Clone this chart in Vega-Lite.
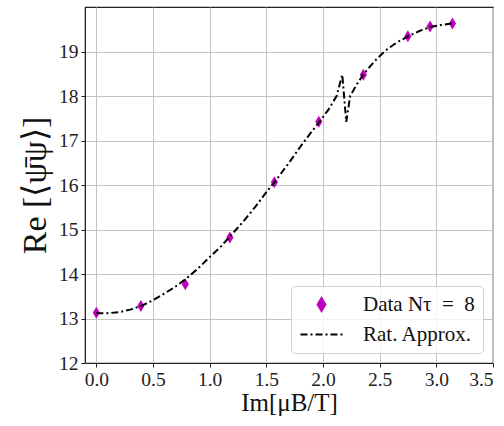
{
  "$schema": "https://vega.github.io/schema/vega-lite/v6.json",
  "width": 408,
  "height": 356,
  "autosize": {"type": "none"},
  "padding": {"left": 85, "top": 7, "right": 11, "bottom": 63},
  "background": "white",
  "config": {
    "font": "Liberation Serif",
    "view": {"stroke": "#222222", "strokeWidth": 1.2},
    "axis": {
      "labelFontSize": 19.5,
      "labelColor": "#222222",
      "titleColor": "#111111",
      "titleFontWeight": "normal",
      "tickColor": "#222222",
      "domainColor": "#222222",
      "tickSize": 4,
      "labelPadding": 3,
      "gridColor": "#c4c4c4",
      "gridWidth": 1
    }
  },
  "datasets": {
    "pts": [
      {"x": 0.0, "y": 13.13, "series": "Data Nτ = 8"},
      {"x": 0.393, "y": 13.28, "series": "Data Nτ = 8"},
      {"x": 0.785, "y": 13.77, "series": "Data Nτ = 8"},
      {"x": 1.178, "y": 14.82, "series": "Data Nτ = 8"},
      {"x": 1.571, "y": 16.06, "series": "Data Nτ = 8"},
      {"x": 1.963, "y": 17.42, "series": "Data Nτ = 8"},
      {"x": 2.356, "y": 18.48, "series": "Data Nτ = 8"},
      {"x": 2.749, "y": 19.34, "series": "Data Nτ = 8"},
      {"x": 2.945, "y": 19.56, "series": "Data Nτ = 8"},
      {"x": 3.142, "y": 19.63, "series": "Data Nτ = 8"}
    ],
    "curve": [
      {"x": 0.0, "y": 13.12, "series": "Rat. Approx."},
      {"x": 0.1, "y": 13.12, "series": "Rat. Approx."},
      {"x": 0.2, "y": 13.14, "series": "Rat. Approx."},
      {"x": 0.3, "y": 13.2, "series": "Rat. Approx."},
      {"x": 0.393, "y": 13.28, "series": "Rat. Approx."},
      {"x": 0.5, "y": 13.41, "series": "Rat. Approx."},
      {"x": 0.6, "y": 13.56, "series": "Rat. Approx."},
      {"x": 0.7, "y": 13.72, "series": "Rat. Approx."},
      {"x": 0.785, "y": 13.88, "series": "Rat. Approx."},
      {"x": 0.9, "y": 14.13, "series": "Rat. Approx."},
      {"x": 1.0, "y": 14.38, "series": "Rat. Approx."},
      {"x": 1.1, "y": 14.62, "series": "Rat. Approx."},
      {"x": 1.178, "y": 14.84, "series": "Rat. Approx."},
      {"x": 1.3, "y": 15.19, "series": "Rat. Approx."},
      {"x": 1.4, "y": 15.5, "series": "Rat. Approx."},
      {"x": 1.5, "y": 15.84, "series": "Rat. Approx."},
      {"x": 1.571, "y": 16.06, "series": "Rat. Approx."},
      {"x": 1.7, "y": 16.5, "series": "Rat. Approx."},
      {"x": 1.8, "y": 16.86, "series": "Rat. Approx."},
      {"x": 1.9, "y": 17.2, "series": "Rat. Approx."},
      {"x": 1.963, "y": 17.4, "series": "Rat. Approx."},
      {"x": 2.05, "y": 17.7, "series": "Rat. Approx."},
      {"x": 2.12, "y": 18.0, "series": "Rat. Approx."},
      {"x": 2.17, "y": 18.48, "series": "Rat. Approx."},
      {"x": 2.205, "y": 17.42, "series": "Rat. Approx."},
      {"x": 2.24, "y": 18.0, "series": "Rat. Approx."},
      {"x": 2.3, "y": 18.27, "series": "Rat. Approx."},
      {"x": 2.356, "y": 18.48, "series": "Rat. Approx."},
      {"x": 2.45, "y": 18.77, "series": "Rat. Approx."},
      {"x": 2.55, "y": 19.02, "series": "Rat. Approx."},
      {"x": 2.65, "y": 19.2, "series": "Rat. Approx."},
      {"x": 2.749, "y": 19.34, "series": "Rat. Approx."},
      {"x": 2.85, "y": 19.46, "series": "Rat. Approx."},
      {"x": 2.945, "y": 19.55, "series": "Rat. Approx."},
      {"x": 3.05, "y": 19.6, "series": "Rat. Approx."},
      {"x": 3.142, "y": 19.63, "series": "Rat. Approx."}
    ]
  },
  "encoding": {
    "x": {
      "field": "x",
      "type": "quantitative",
      "scale": {"domain": [-0.1, 3.5], "nice": false, "zero": false},
      "axis": {
        "values": [0, 0.5, 1, 1.5, 2, 2.5, 3, 3.5],
        "format": ".1f",
        "title": "Im[μB/T]",
        "titleFontSize": 25,
        "titlePadding": 2
      }
    },
    "y": {
      "field": "y",
      "type": "quantitative",
      "scale": {"domain": [12, 20], "nice": false, "zero": false},
      "axis": {
        "values": [12, 13, 14, 15, 16, 17, 18, 19],
        "title": "Re [⟨ψ̄ψ⟩]",
        "titleFontSize": 34,
        "titlePadding": 6
      }
    },
    "color": {
      "field": "series",
      "type": "nominal",
      "scale": {"domain": ["Data Nτ = 8", "Rat. Approx."], "range": ["#bf00bf", "#000000"]},
      "legend": {
        "title": null,
        "orient": "bottom-right",
        "offset": 10,
        "fillColor": "rgba(255,255,255,0.8)",
        "strokeColor": "#d0d0d0",
        "cornerRadius": 4,
        "padding": 8,
        "labelFontSize": 21,
        "labelColor": "#111111",
        "labelOffset": 31,
        "symbolOffset": 12,
        "symbolSize": 1764,
        "rowPadding": 8,
        "labelExpr": "datum.label === 'Data Nτ = 8' ? 'Data Nτ\u2002=\u20028' : datum.label",
        "encode": {
          "symbols": {
            "update": {
              "shape": {"signal": "datum.value === 'Rat. Approx.' ? 'stroke' : 'M0,-1L0.6,0L0,1L-0.6,0Z'"},
              "size": {"signal": "datum.value === 'Rat. Approx.' ? 1764 : 169"},
              "fill": {"signal": "datum.value === 'Rat. Approx.' ? 'transparent' : '#bf00bf'"},
              "stroke": {"signal": "datum.value === 'Rat. Approx.' ? '#000000' : 'transparent'"},
              "strokeWidth": {"value": 2},
              "strokeDash": {"signal": "datum.value === 'Rat. Approx.' ? [7,3,2,3] : [1,0]"},
              "opacity": {"value": 1}
            }
          }
        }
      }
    }
  },
  "layer": [
    {
      "data": {"name": "pts"},
      "mark": {"type": "point", "filled": true, "shape": "M0,-1L0.6,0L0,1L-0.6,0Z", "size": 144, "opacity": 1}
    },
    {
      "data": {"name": "curve"},
      "mark": {"type": "line", "strokeDash": [7, 3, 2, 3], "strokeWidth": 2}
    }
  ]
}
